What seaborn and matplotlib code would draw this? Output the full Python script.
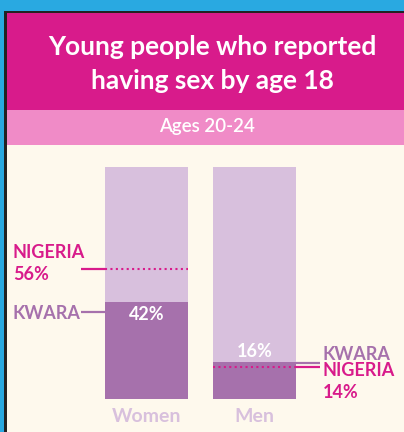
import matplotlib
matplotlib.use("Agg")
import matplotlib.pyplot as plt
import seaborn as sns
import pandas as pd
from matplotlib.patches import Rectangle

categories = ["Women", "Men"]
kwara = [42, 16]
nigeria = [56, 14]
full = [100, 100]
title = "Young people who reported\nhaving sex by age 18"
subtitle = "Ages 20-24"

BLUE = "#29a9e1"
DARK = "#222222"
MAGENTA = "#d81b8b"
PINK = "#f08bc7"
CREAM = "#fef9ed"
LIGHT = "#d8c0dd"
PURPLE = "#a671ac"

sns.set_theme(style="white")
plt.rcParams["font.family"] = ["Lato", "DejaVu Sans"]

W, H = 404, 432
fig = plt.figure(figsize=(W / 100, H / 100), dpi=100)
fig.patch.set_facecolor(BLUE)

def fx(x):
    return x / W

def fy(y):
    return 1 - y / H

def rect(x0, y0, x1, y1, color):
    fig.add_artist(Rectangle((fx(x0), fy(y1)), fx(x1) - fx(x0), fy(y0) - fy(y1),
                             transform=fig.transFigure, facecolor=color, edgecolor="none", zorder=0))

rect(4, 11, W, H, DARK)
rect(7, 13, W, 110, MAGENTA)
rect(7, 110, W, 145, PINK)

fig.text(fx(212), fy(47), "Young people who reported", ha="center", va="center",
         color="white", fontsize=19, fontweight="bold")
fig.text(fx(212), fy(81), "having sex by age 18", ha="center", va="center",
         color="white", fontsize=19, fontweight="bold")
fig.text(fx(207), fy(127), subtitle, ha="center", va="center", color="white",
         fontsize=13.5, fontweight="semibold")

# axes: pixel x 7..404, y 145..432
ax = fig.add_axes([fx(7), fy(432), fx(404) - fx(7), fy(145) - fy(432)])
ax.set_facecolor(CREAM)
spacing = 108.0
c0 = 146.5
scale = 2.32
base = 399

def dx(px):
    return (px - c0) / spacing

df = pd.DataFrame({"cat": categories, "full": full, "kwara": kwara, "nigeria": nigeria})
sns.barplot(data=df, x="cat", y="full", color=LIGHT, width=83 / spacing,
            saturation=1, ax=ax, order=categories, linewidth=0)
sns.barplot(data=df, x="cat", y="kwara", color=PURPLE, width=83 / spacing,
            saturation=1, ax=ax, order=categories, linewidth=0)
ax.set_xlim(dx(7), dx(404))
ax.set_ylim((base - 432) / scale, (base - 145) / scale)
for s in ax.spines.values():
    s.set_visible(False)
ax.set_xticks([])
ax.set_yticks([])
ax.set_xlabel("")
ax.set_ylabel("")

half = 83 / spacing / 2
dots = (0, (1, 1.6))

# Women: Nigeria leader + dotted line
ax.plot([dx(81), 0 - half], [nigeria[0]] * 2, color=MAGENTA, lw=1.6, solid_capstyle="butt")
ax.plot([0 - half, 0 + half], [nigeria[0]] * 2, color=MAGENTA, lw=1.5, linestyle=dots)
# Women: Kwara leader
ky = (base - 312) / scale
ax.plot([dx(81), 0 - half + 0.02], [ky] * 2, color=PURPLE, lw=1.6, solid_capstyle="butt")

# Men: Nigeria dotted + leaders
ax.plot([1 - half, 1 + half], [nigeria[1]] * 2, color=MAGENTA, lw=1.5, linestyle=dots)
ax.plot([1 + half, dx(320)], [nigeria[1]] * 2, color=MAGENTA, lw=1.6, solid_capstyle="butt")
ax.plot([1 + half, dx(320)], [kwara[1] - 0.4] * 2, color=PURPLE, lw=1.6, solid_capstyle="butt")

# value labels
ax.text(0, kwara[0] - 5.5, f"{kwara[0]}%", ha="center", va="center", color="white",
        fontsize=13, fontweight="bold")
ax.text(1, kwara[1] + 4.5, f"{kwara[1]}%", ha="center", va="center", color="white",
        fontsize=13, fontweight="bold")

# category labels
for i, c in enumerate(categories):
    ax.text(i, (base - 416) / scale, c, ha="center", va="center", color=LIGHT,
            fontsize=14, fontweight="bold")

# side labels
lab = dict(fontsize=13, fontweight="bold", va="center", ha="left")
fig.text(fx(13), fy(252), "NIGERIA", color=MAGENTA, **lab)
fig.text(fx(13), fy(275), f"{nigeria[0]}%", color=MAGENTA, **lab)
fig.text(fx(13), fy(313.5), "KWARA", color=PURPLE, **lab)
fig.text(fx(323), fy(354), "KWARA", color=PURPLE, **lab)
fig.text(fx(323), fy(370), "NIGERIA", color=MAGENTA, **lab)
fig.text(fx(323), fy(392), f"{nigeria[1]}%", color=MAGENTA, **lab)

fig.savefig("out.png", dpi=100, facecolor=fig.get_facecolor())
